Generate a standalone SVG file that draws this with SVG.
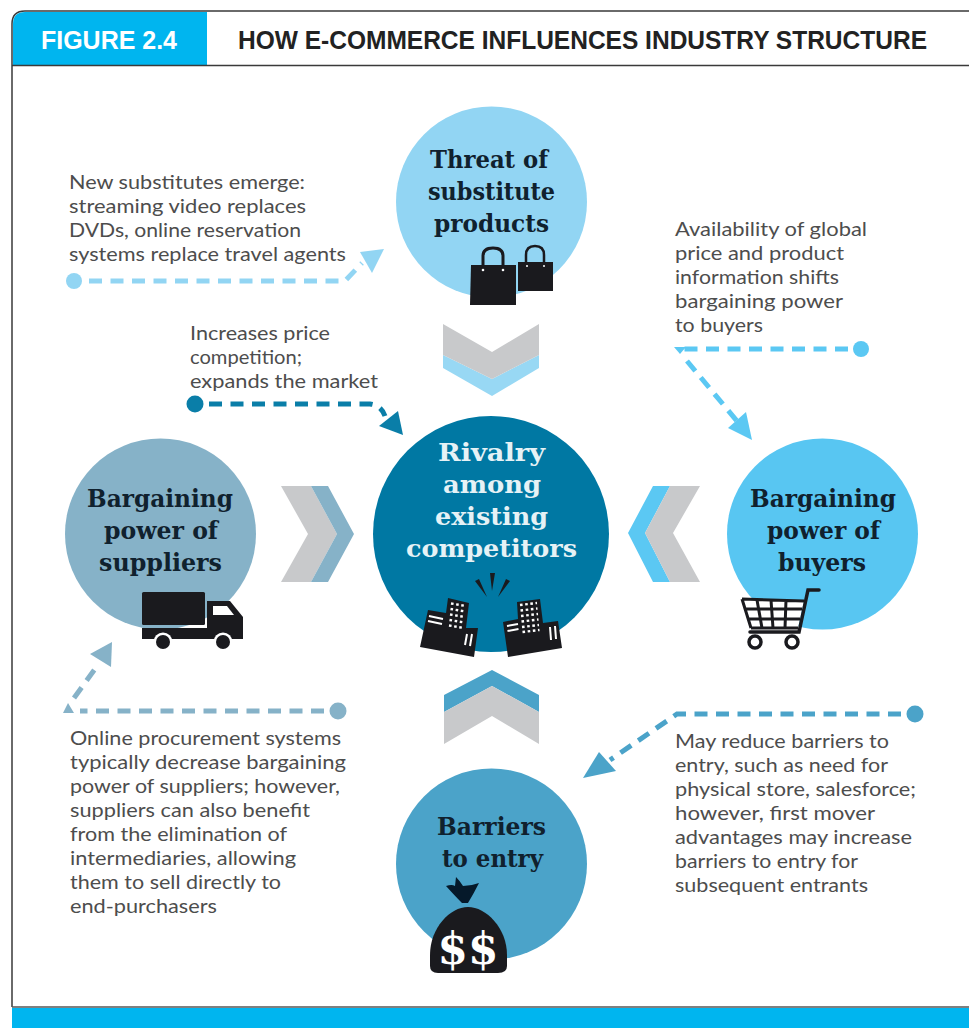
<svg xmlns="http://www.w3.org/2000/svg" width="969" height="1028" viewBox="0 0 969 1028">
<style>
.hd{font-family:"Liberation Sans",Arial,sans-serif;font-weight:700;font-size:25px}
.lb{font-family:"DejaVu Serif","Liberation Serif",serif;font-weight:700;font-size:25px;fill:#10212e}
.tx{font-family:"Lato","Noto Sans",sans-serif;font-size:20px;fill:#4d4d4d}
.d{fill:none;stroke-width:5;stroke-dasharray:13 8.5}
.k{fill:#1a1a1e}
.w{stroke:#fff;stroke-width:2;fill:none}
.wd{stroke:#fff;stroke-width:2.4;stroke-dasharray:2.6 2.6;fill:none}
</style>
<rect width="969" height="1028" fill="#fff"/>
<g id="frame">
<path d="M13,65 V24 Q13,12 25,12 H207 V65 Z" fill="#00b5ef"/>
<path d="M12,1007 V24 Q12,11 25,11 H969" fill="none" stroke="#3a3a3a" stroke-width="1.5"/>
<path d="M12,65.500 H969" stroke="#3a3a3a" stroke-width="1.500"/>
<rect x="0" y="1008" width="969" height="20" fill="#00b5ef"/>
<path d="M12,1007 H969" stroke="#555" stroke-width="1.500"/>
<rect x="0" y="1007" width="12" height="21" fill="#fff"/>
<rect x="12" y="1008" width="957" height="20" fill="#00b5ef"/>
<text class="hd" x="41" y="49" fill="#fff" textLength="136" lengthAdjust="spacingAndGlyphs">FIGURE 2.4</text>
<text class="hd" x="238" y="49" fill="#222" textLength="689" lengthAdjust="spacingAndGlyphs">HOW E-COMMERCE INFLUENCES INDUSTRY STRUCTURE</text>
</g>
<g id="connectors">
<g id="conn-substitutes">
<circle cx="74" cy="281" r="8" fill="#92d5f3"/>
<path class="d" d="M89,281 H345 L362,263" stroke="#92d5f3"/>
<path d="M384,249 L360,252 L372,273 Z" fill="#92d5f3"/>
</g>
<g id="conn-rivalry">
<circle cx="195" cy="404" r="8.500" fill="#0a7ea8"/>
<path class="d" d="M209,404 H370 Q381,405 385,416" stroke="#0a7ea8"/>
<path d="M403,435 L379,426 L398,411 Z" fill="#0a7ea8"/>
</g>
<g id="conn-buyers">
<circle cx="861" cy="349" r="8" fill="#5bc8f3"/>
<path class="d" d="M848,349 H682" stroke="#5bc8f3"/>
<path d="M674,347 L686,347 L680,354 Z" fill="#5bc8f3"/>
<path class="d" d="M687,361 L737,421" stroke="#5bc8f3"/>
<path d="M752,440 L728,428 L746,412 Z" fill="#5bc8f3"/>
</g>
<g id="conn-suppliers">
<circle cx="338" cy="711" r="8.500" fill="#86b2c8"/>
<path class="d" d="M324,711 H80" stroke="#86b2c8"/>
<path d="M63,713 L74,713 L68,703 Z" fill="#86b2c8"/>
<path class="d" d="M74,698 L95,669" stroke="#86b2c8"/>
<path d="M112,642 L90,654 L111,667 Z" fill="#86b2c8"/>
</g>
<g id="conn-barriers">
<circle cx="915" cy="714" r="8.500" fill="#4ba3c9"/>
<path class="d" d="M901,714 H677 L610,760" stroke="#4ba3c9"/>
<path d="M583,778 L599,752 L616,771 Z" fill="#4ba3c9"/>
</g>
</g>
<g id="chevron-top">
<path d="M443,355 L492,379 L539,355 V368 L492,396 L443,368 Z" fill="#98d8f4"/>
<path d="M443,324 L492,352 L539,324 V355 L492,379 L443,355 Z" fill="#c8c9cb"/>
</g>
<g id="chevron-right">
<path d="M628,533 L653,486 H670 L645,533 L670,582 H653 Z" fill="#5bc8f3"/>
<path d="M645,533 L670,486 H700 L673,533 L700,582 H670 Z" fill="#c8c9cb"/>
</g>
<g id="chevron-left">
<path d="M281,486 H311 L337,534 L311,582 H281 L308,534 Z" fill="#c8c9cb"/>
<path d="M311,486 H328 L354,534 L328,582 H311 L337,534 Z" fill="#86b2c8"/>
</g>
<g id="chevron-bottom">
<path d="M492,670 L539,695 V712 L492,686 L444,712 V695 Z" fill="#4ba3c9"/>
<path d="M492,686 L539,712 V744 L492,716 L444,744 V712 Z" fill="#c8c9cb"/>
</g>
<g id="node-substitutes">
<circle cx="491.500" cy="202" r="95.500" fill="#92d5f3"/>
<text class="lb" x="430" y="168" textLength="118" lengthAdjust="spacingAndGlyphs">Threat of</text>
<text class="lb" x="428" y="200" textLength="127" lengthAdjust="spacingAndGlyphs">substitute</text>
<text class="lb" x="434" y="232" textLength="115" lengthAdjust="spacingAndGlyphs">products</text>
<path class="k" d="M518,262 H553 V291 H518 Z"/>
<path d="M526,263 V255 Q526,246 535,246 Q544,246 544,255 V263" fill="none" stroke="#1a1a1e" stroke-width="2.500"/>
<path class="k" d="M471,265 H516 V305 H470 Z"/>
<path d="M483,266 V256 Q483,248 493,248 Q503,248 503,256 V266" fill="none" stroke="#1a1a1e" stroke-width="3"/>
<circle cx="483" cy="270" r="1.300" fill="#fff"/><circle cx="503" cy="270" r="1.300" fill="#fff"/>
<circle cx="527" cy="266" r="1" fill="#fff"/><circle cx="544" cy="266" r="1" fill="#fff"/>
</g>
<g id="node-rivalry">
<circle cx="491" cy="534" r="118" fill="#0078a3"/>
<text class="lb" x="438" y="461" fill="#e6f2f6" style="fill:#e6f2f6" textLength="107" lengthAdjust="spacingAndGlyphs">Rivalry</text>
<text class="lb" x="443" y="493" style="fill:#e6f2f6" textLength="98" lengthAdjust="spacingAndGlyphs">among</text>
<text class="lb" x="435" y="525" style="fill:#e6f2f6" textLength="113" lengthAdjust="spacingAndGlyphs">existing</text>
<text class="lb" x="406" y="557" style="fill:#e6f2f6" textLength="171" lengthAdjust="spacingAndGlyphs">competitors</text>
<path class="k" d="M490,573 L495,573 L492,591 Z M475,581 L479,579 L487,597 Z M510,581 L506,579 L498,597 Z"/>
<path class="k" d="M428,610 L446,613 L448,598 L469,603 L466,628 L478,628 L474,657 L420,647 Z"/>
<path class="wd" d="M451,603.500 L466,606 M450.500,609 L465.500,611.500 M450,614.500 L465,617 M449.500,620 L464.500,622.500 M449,625.500 L464,628"/>
<path class="w" d="M429,616 L443,619 M428,621 L442,624 M467,634 L465,645 M472,634 L470,646"/>
<path class="k" d="M503,622 L518,619 L517,602 L540,599 L543,623 L558,621 L562,648 L508,657 Z"/>
<path class="wd" d="M520,605 L537,603 M520.500,610.500 L537.500,608.500 M521,616 L538,614 M521.500,621.500 L538.500,619.500 M522,627 L539,625 M522.500,632 L539.500,630"/>
<path class="w" d="M507,626 L518,624 M507.500,631 L518.500,629 M550,627 L551,640 M555,626 L556,639"/>
</g>
<g id="node-suppliers">
<circle cx="160.500" cy="534" r="95.500" fill="#86b2c8"/>
<text class="lb" x="87" y="507" textLength="146" lengthAdjust="spacingAndGlyphs">Bargaining</text>
<text class="lb" x="104" y="539" textLength="114" lengthAdjust="spacingAndGlyphs">power of</text>
<text class="lb" x="99" y="571" textLength="123" lengthAdjust="spacingAndGlyphs">suppliers</text>
<rect class="k" x="142" y="592" width="63" height="33" rx="1.500"/>
<path class="k" d="M207,601 H230 L243,617 V639 H142 V628 H207 Z"/>
<path d="M213,606 H227 L234,615 H213 Z" fill="#fff"/>
<circle cx="163" cy="642" r="9.500" fill="#fff"/><circle cx="163" cy="642" r="7" class="k"/>
<circle cx="223" cy="642" r="9.500" fill="#fff"/><circle cx="223" cy="642" r="7" class="k"/>
</g>
<g id="node-buyers">
<circle cx="822.500" cy="534" r="95.500" fill="#58c6f2"/>
<text class="lb" x="750" y="507" textLength="146" lengthAdjust="spacingAndGlyphs">Bargaining</text>
<text class="lb" x="767" y="539" textLength="113" lengthAdjust="spacingAndGlyphs">power of</text>
<text class="lb" x="778" y="571" textLength="88" lengthAdjust="spacingAndGlyphs">buyers</text>
<path d="M742,599 L804,601 L798,628 L751,628 Z" fill="#fff"/>
<path d="M742,599 L804,601 M745,609 L802,609 M747,619 L800,619 M751,628 L798,628 M742,599 L751,628 M757,600 L762,628 M771,600 L773,628 M786,600 L785,628" fill="none" stroke="#1a1a1e" stroke-width="3"/>
<path d="M819,590 H808 L799,632 H750" fill="none" stroke="#1a1a1e" stroke-width="3.500" stroke-linecap="round"/>
<circle cx="755" cy="642" r="6" fill="#fff" stroke="#1a1a1e" stroke-width="3.500"/>
<circle cx="792" cy="642" r="6" fill="#fff" stroke="#1a1a1e" stroke-width="3.500"/>
</g>
<g id="node-barriers">
<circle cx="491.500" cy="864" r="95.500" fill="#4ba3c9"/>
<text class="lb" x="437" y="835" textLength="109" lengthAdjust="spacingAndGlyphs">Barriers</text>
<text class="lb" x="442" y="867" textLength="101" lengthAdjust="spacingAndGlyphs">to entry</text>
<path d="M446,886 Q452,884 455,886 L456,877 Q460,881 463,886 Q471,886 479,883 Q474,893 468,903 H462 Q455,896 446,886 Z" fill="#05192a"/>
<path class="k" d="M468,907 C486,907 507,928 507,955 V966 Q507,973 498,973 H438 Q430,973 430,966 V955 C430,928 450,907 468,907 Z"/>
<text x="468" y="964" text-anchor="middle" font-family="DejaVu Serif, serif" font-weight="700" font-size="44" fill="#fff" textLength="61" lengthAdjust="spacingAndGlyphs">$$</text>
</g>
<g id="text-substitutes" class="tx">
<text x="69" y="189" textLength="236" lengthAdjust="spacingAndGlyphs">New substitutes emerge:</text>
<text x="69" y="213" textLength="237" lengthAdjust="spacingAndGlyphs">streaming video replaces</text>
<text x="69" y="237" textLength="232" lengthAdjust="spacingAndGlyphs">DVDs, online reservation</text>
<text x="69" y="261" textLength="277" lengthAdjust="spacingAndGlyphs">systems replace travel agents</text>
</g>
<g id="text-buyers" class="tx">
<text x="675" y="236" textLength="192" lengthAdjust="spacingAndGlyphs">Availability of global</text>
<text x="675" y="260" textLength="169" lengthAdjust="spacingAndGlyphs">price and product</text>
<text x="675" y="284" textLength="164" lengthAdjust="spacingAndGlyphs">information shifts</text>
<text x="675" y="308" textLength="168" lengthAdjust="spacingAndGlyphs">bargaining power</text>
<text x="675" y="332" textLength="88" lengthAdjust="spacingAndGlyphs">to buyers</text>
</g>
<g id="text-rivalry" class="tx">
<text x="190" y="340" textLength="140" lengthAdjust="spacingAndGlyphs">Increases price</text>
<text x="190" y="364" textLength="112" lengthAdjust="spacingAndGlyphs">competition;</text>
<text x="190" y="388" textLength="188" lengthAdjust="spacingAndGlyphs">expands the market</text>
</g>
<g id="text-suppliers" class="tx">
<text x="70" y="745" textLength="271" lengthAdjust="spacingAndGlyphs">Online procurement systems</text>
<text x="70" y="769" textLength="276" lengthAdjust="spacingAndGlyphs">typically decrease bargaining</text>
<text x="70" y="793" textLength="270" lengthAdjust="spacingAndGlyphs">power of suppliers; however,</text>
<text x="70" y="817" textLength="240" lengthAdjust="spacingAndGlyphs">suppliers can also benefit</text>
<text x="70" y="841" textLength="217" lengthAdjust="spacingAndGlyphs">from the elimination of</text>
<text x="70" y="865" textLength="226" lengthAdjust="spacingAndGlyphs">intermediaries, allowing</text>
<text x="70" y="889" textLength="211" lengthAdjust="spacingAndGlyphs">them to sell directly to</text>
<text x="70" y="913" textLength="147" lengthAdjust="spacingAndGlyphs">end-purchasers</text>
</g>
<g id="text-barriers" class="tx">
<text x="675" y="748" textLength="214" lengthAdjust="spacingAndGlyphs">May reduce barriers to</text>
<text x="675" y="772" textLength="213" lengthAdjust="spacingAndGlyphs">entry, such as need for</text>
<text x="675" y="796" textLength="241" lengthAdjust="spacingAndGlyphs">physical store, salesforce;</text>
<text x="675" y="820" textLength="200" lengthAdjust="spacingAndGlyphs">however, first mover</text>
<text x="675" y="844" textLength="237" lengthAdjust="spacingAndGlyphs">advantages may increase</text>
<text x="675" y="868" textLength="183" lengthAdjust="spacingAndGlyphs">barriers to entry for</text>
<text x="675" y="892" textLength="193" lengthAdjust="spacingAndGlyphs">subsequent entrants</text>
</g>
</svg>
